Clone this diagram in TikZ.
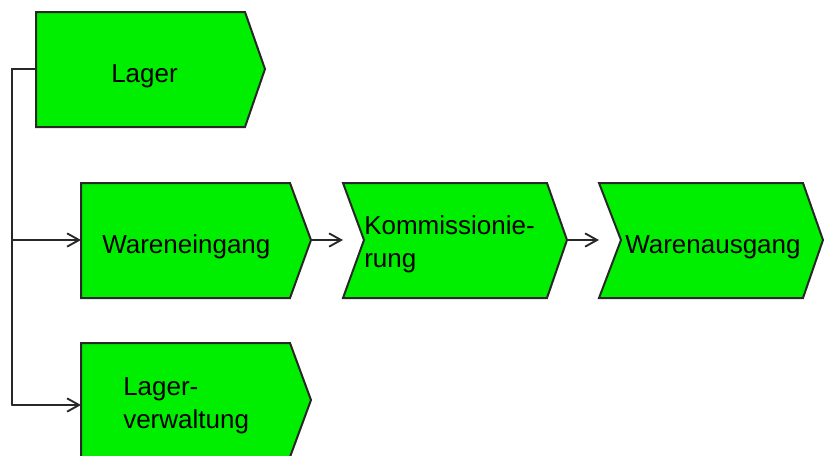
\documentclass[tikz,border=0pt]{standalone}
\usepackage{fontspec}
\setmainfont{Liberation Sans}
\usepackage{tkz-euclide}
\usetikzlibrary{arrows.meta}
\definecolor{boxgreen}{RGB}{0,238,0}
\definecolor{edgegray}{RGB}{40,40,40}
\tikzset{
  boxline/.style={draw=edgegray, line width=1.5pt, fill=boxgreen, line join=miter},
  link/.style={draw=edgegray, line width=1.4pt},
  linkarrow/.style={link, -{Straight Barb[length=9pt,width=10pt]}},
  boxtext/.style={anchor=base west, inner sep=0pt, align=left,
    font=\fontsize{19.5}{24.5}\selectfont}
}

\begin{document}
\begin{tikzpicture}[x=0.75pt, y=-0.75pt]
    \useasboundingbox (0,0) rectangle (826,455);
    \clip (0,0) rectangle (826,455);
    % boxes
    \tkzDefPoints{36/12/La,245/12/Lb,265/69/Lc,245/127/Ld,36/127/Le,36/69/Lm}
    \tkzDefPoints{81/183/Wa,290/183/Wb,311/240/Wc,290/298/Wd,81/298/We}
    \tkzDefPoints{81/343/Va,290/343/Vb,311/400/Vc,290/457/Vd,81/457/Ve}
    \tkzDefPoints{343/183/Ka,547/183/Kb,567/240/Kc,547/298/Kd,343/298/Ke,364/240/Kf}
    \tkzDefPoints{599/183/Aa,803/183/Ab,823/240/Ac,803/298/Ad,599/298/Ae,621/240/Af}
    \tkzDrawPolygon[boxline](La,Lb,Lc,Ld,Le)
    \tkzDrawPolygon[boxline](Wa,Wb,Wc,Wd,We)
    \tkzDrawPolygon[boxline](Va,Vb,Vc,Vd,Ve)
    \tkzDrawPolygon[boxline](Ka,Kb,Kc,Kd,Ke,Kf)
    \tkzDrawPolygon[boxline](Aa,Ab,Ac,Ad,Ae,Af)
    % links
    \tkzDefPoints{12/69/J1,12/240/J2,12/405/J3,81/240/Wi,81/405/Vi,343/240/Ki,599/240/Ai}
    \tkzDrawPolySeg[link](Lm,J1,J3)
    \tkzDrawSegments[linkarrow](J2,Wi J3,Vi Wc,Ki Kc,Ai)
    % labels
    \node[boxtext] (lager) at (111,82) {Lager};
    \node[boxtext] (eingang) at (102,253) {Wareneingang};
    \node[boxtext] (verwaltung) at (123,428) {Lager-\\verwaltung};
    \node[boxtext] (kommission) at (364,267) {Kommissionie-\\rung};
    \node[boxtext] (ausgang) at (625,253) {Warenausgang};
\end{tikzpicture}
\end{document}
